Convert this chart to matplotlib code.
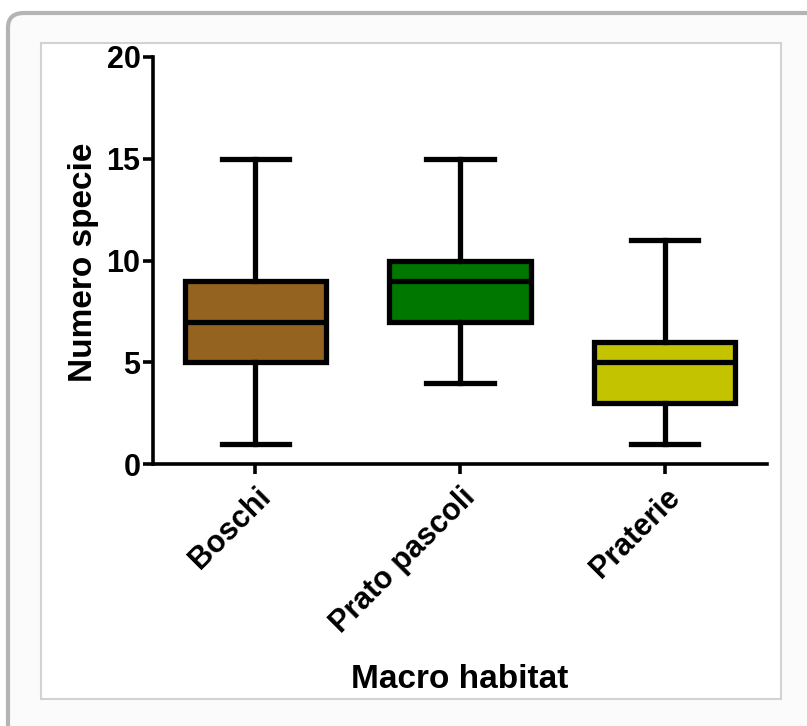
import matplotlib
matplotlib.use('Agg')
import matplotlib.pyplot as plt
from matplotlib.patches import FancyBboxPatch, Rectangle

plt.rcParams['font.family'] = ['Liberation Sans', 'DejaVu Sans']
plt.rcParams['font.weight'] = 'bold'

# data
habitats = ['Boschi', 'Prato pascoli', 'Praterie']
mins = [1, 4, 1]
q1s = [5, 7, 3]
medians = [7, 9, 5]
q3s = [9, 10, 6]
maxs = [15, 15, 11]
colors = ['#946320', '#007800', '#c3c300']
yticks = [0, 5, 10, 15, 20]

W, H = 807, 726
fig = plt.figure(figsize=(W / 100, H / 100), dpi=100)
fig.patch.set_facecolor('white')

# outer panel with shadowed edge
fig.patches.append(FancyBboxPatch((8 / W, -0.1), 1.2, 1 - 13 / H + 0.1,
                                  boxstyle='round,pad=0,rounding_size=0.02',
                                  transform=fig.transFigure, facecolor='#fbfbfb',
                                  edgecolor='#b4b4b4', linewidth=3, zorder=-2))
# inner white box
fig.patches.append(Rectangle((41 / W, 1 - 699 / H), (781 - 41) / W, (699 - 43) / H,
                             transform=fig.transFigure, facecolor='white',
                             edgecolor='#d2d2d2', linewidth=1.5, zorder=-1))

ax = fig.add_axes([153 / W, 1 - 464 / H, (767 - 153) / W, (464 - 57) / H])
ax.set_facecolor('none')
ax.set_zorder(1)

stats = []
for i in range(len(habitats)):
    stats.append({'med': medians[i], 'q1': q1s[i], 'q3': q3s[i],
                  'whislo': mins[i], 'whishi': maxs[i], 'fliers': [],
                  'label': habitats[i]})

lw = 3.8
bp = ax.bxp(stats, positions=range(len(habitats)), widths=0.69,
            patch_artist=True, showfliers=False,
            boxprops=dict(linewidth=lw, edgecolor='black'),
            whiskerprops=dict(linewidth=lw, color='black'),
            capprops=dict(linewidth=lw, color='black'),
            medianprops=dict(linewidth=lw, color='black'),
            capwidths=0.33)
for patch, c in zip(bp['boxes'], colors):
    patch.set_facecolor(c)
    patch.set_joinstyle('miter')

ax.set_xlim(-0.5, 2.5)
ax.set_ylim(0, 20)
ax.set_yticks(yticks)
ax.set_xticks(range(len(habitats)))
ax.set_xticklabels(habitats, rotation=45, ha='right', va='top',
                   rotation_mode='anchor', fontsize=22, fontweight='bold')
ax.tick_params(axis='y', labelsize=22, width=2.6, length=7, direction='out', pad=2)
ax.tick_params(axis='x', width=2.6, length=7, direction='out', pad=6)
for lab in ax.get_yticklabels():
    lab.set_fontweight('bold')

for s in ['top', 'right']:
    ax.spines[s].set_visible(False)
for s in ['left', 'bottom']:
    ax.spines[s].set_linewidth(2.6)

ax.set_ylabel('Numero specie', fontsize=24, fontweight='bold')
ax.set_xlabel('Macro habitat', fontsize=24, fontweight='bold')
ax.xaxis.set_label_coords((460 - 153) / (767 - 153), -(664 - 464) / (464 - 57))
ax.yaxis.set_label_coords(-(153 - 99) / (767 - 153), (464 - 262) / (464 - 57))

fig.savefig('out.png', dpi=100)
